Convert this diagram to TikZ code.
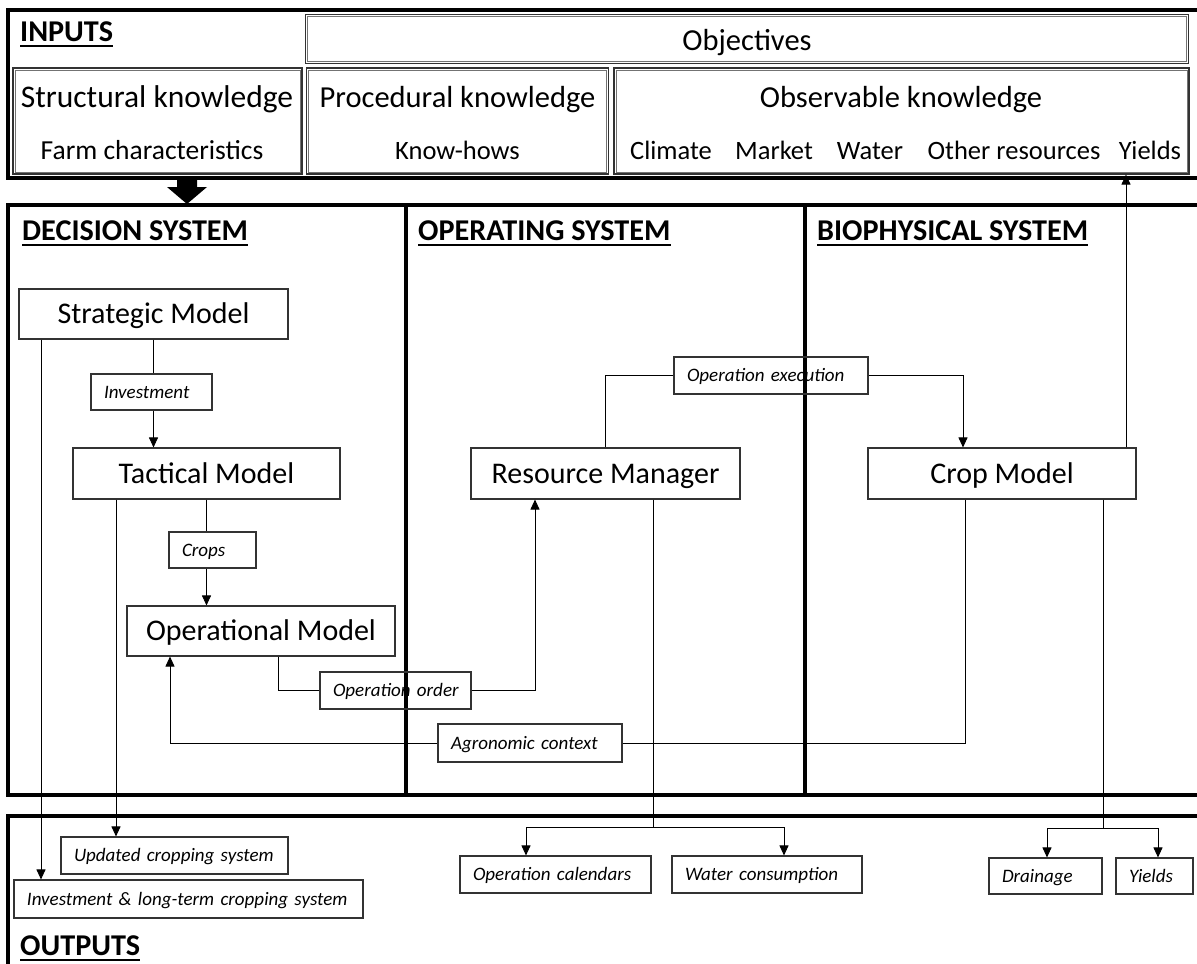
\documentclass[tikz,border=0pt]{standalone}
\usepackage{fontspec}
\setmainfont{Carlito}
\usetikzlibrary{arrows.meta,calc}
\begin{document}
\begin{tikzpicture}[x=1pt,y=-1pt,
 frame/.style={line width=3.2pt},
 ibox/.style={draw=black!80, line width=1.1pt, inner sep=0pt},
 iline/.style={draw=black!55, line width=0.9pt},
 mbox/.style={draw=black!80, line width=1.1pt, inner sep=0pt, text height=19.5pt, text depth=0pt, font=\fontsize{30}{36}\selectfont},
 lab/.style={draw=black!80, line width=1.1pt, inner xsep=13pt, inner ysep=0pt, text height=12pt, text depth=0pt, align=left, font=\fontsize{19}{22}\selectfont\itshape},
 conn/.style={line width=0.9pt},
 arr/.style={conn, -{Triangle[width=9pt,length=10pt]}},
 hdr/.style={font=\fontsize{30.2}{35}\selectfont\bfseries, inner sep=0pt, anchor=base west},
 big/.style={font=\fontsize{30.5}{36}\selectfont, inner sep=0pt, anchor=base},
 small/.style={font=\fontsize{26.5}{30}\selectfont, inner sep=0pt, anchor=base},
 ul/.style={line width=2.6pt}
]
\useasboundingbox (0,0) rectangle (1197,964);
\clip (0,0) rectangle (1197,964);

% frames
\draw[frame] (8,10) rectangle (1215,178);
\draw[frame] (8,205) rectangle (1215,795);
\draw[frame] (406,205) -- (406,795);
\draw[frame] (805,205) -- (805,795);
\draw[frame] (8,816) rectangle (1215,1000);
\fill (177,178) -- (197,178) -- (197,187) -- (207,187) -- (187,204) -- (167,187) -- (177,187) -- cycle;

% inputs
\node[hdr] (hin) at (20,41) {INPUTS};
\draw[ul] ([yshift=-5pt]hin.base west) -- ([yshift=-5pt]hin.base east);
\node[ibox, minimum width=883, minimum height=49] (obj) at (747,39) {};
\node[ibox, minimum width=289, minimum height=106] (sk) at (157.5,121) {};
\node[ibox, minimum width=302, minimum height=106] (pk) at (457.5,121) {};
\node[ibox, minimum width=575, minimum height=106] (ok) at (901.5,121) {};
\foreach \b in {obj,sk,pk,ok}{
  \draw[iline] ([shift={(2.6pt,-2.6pt)}]\b.north west) rectangle ([shift={(-2.6pt,2.6pt)}]\b.south east);
}
\node[big] (objt) at (747,50) {Objectives};
\node[big, font=\fontsize{31.5}{36}\selectfont] (skt) at (157,107) {Structural knowledge};
\node[small, font=\fontsize{27.5}{32}\selectfont] (skf) at (152,159) {Farm characteristics};
\node[big] (pkt) at (457.5,107) {Procedural knowledge};
\node[small] (pkk) at (457.5,159) {Know-hows};
\node[big] (okt) at (901,107) {Observable knowledge};
\node[small] (ok1) at (671,159) {Climate};
\node[small] (ok2) at (774,159) {Market};
\node[small] (ok3) at (870,159) {Water};
\node[small] (ok4) at (1014,159) {Other resources};
\node[small] (ok5) at (1150,159) {Yields};

% system headers
\node[hdr] (hdec) at (22,240) {DECISION SYSTEM};
\draw[ul] ([yshift=-5pt]hdec.base west) -- ([yshift=-5pt]hdec.base east);
\node[hdr] (hop) at (418,240) {OPERATING SYSTEM};
\draw[ul] ([yshift=-5pt]hop.base west) -- ([yshift=-5pt]hop.base east);
\node[hdr] (hbio) at (817,240) {BIOPHYSICAL SYSTEM};
\draw[ul] ([yshift=-5pt]hbio.base west) -- ([yshift=-5pt]hbio.base east);
\node[hdr] (hout) at (20,955) {OUTPUTS};
\draw[ul] ([yshift=-5pt]hout.base west) -- ([yshift=-5pt]hout.base east);

% models
\node[mbox, minimum width=269, minimum height=50] (sm) at (153.5,314) {Strategic Model};
\node[mbox, minimum width=267, minimum height=51] (tm) at (206.5,473.5) {Tactical Model};
\node[mbox, minimum width=268, minimum height=50] (om) at (261,631) {Operational Model};
\node[mbox, minimum width=269, minimum height=51] (rm) at (605.5,473.5) {Resource Manager};
\node[mbox, minimum width=268, minimum height=51] (cm) at (1002,473.5) {Crop Model};

% labels
\node[lab, text width=95, minimum height=36] (inv) at (151.5,392) {\mbox{Investment}};
\node[lab, text width=61, minimum height=36] (crp) at (212.5,550) {\mbox{Crops}};
\node[lab, text width=125, minimum height=37] (oor) at (395.5,690.5) {\mbox{Operation order}};
\node[lab, text width=158, minimum height=38] (agr) at (530,743) {\mbox{Agronomic context}};
\node[lab, text width=168, minimum height=37] (oex) at (771,375.5) {\mbox{Operation execution}};

% outputs
\node[lab, text width=201, minimum height=37] (upd) at (174.5,855.5) {\mbox{Updated cropping system}};
\node[lab, text width=323, minimum height=38] (ilt) at (188.5,899) {\mbox{Investment \& long-term cropping system}};
\node[lab, text width=165, minimum height=37] (cal) at (555.5,874.5) {\mbox{Operation calendars}};
\node[lab, text width=164, minimum height=37] (wat) at (767,874.5) {\mbox{Water consumption}};
\node[lab, text width=87, minimum height=36] (drn) at (1045.5,876) {\mbox{Drainage}};
\node[lab, text width=51, minimum height=36] (yld) at (1154.5,876) {\mbox{Yields}};

% connectors
\draw[conn] (sm.south) -- (sm.south |- inv.north);
\draw[arr] (inv.south -| sm.south) -- (tm.north -| sm.south);
\draw[conn] (tm.south) -- (tm.south |- crp.north);
\draw[arr] (crp.south -| tm.south) -- (om.north -| tm.south);
\draw[conn] ([xshift=17pt]om.south) |- (oor.west);
\draw[arr] (oor.east) -| ([xshift=-70.5pt]rm.south);
\draw[conn] (rm.north) |- (oex.west);
\draw[arr] (oex.east) -| ([xshift=-39pt]cm.north);
\draw[conn] ([xshift=-37pt]cm.south) |- (agr.east);
\draw[arr] (agr.west) -| ([xshift=-91pt]om.south);
\draw[arr] ([xshift=124pt]cm.north) -- ([xshift=124pt]cm.north |- ok.south);

\draw[arr] ([xshift=-112.5pt]sm.south) -- ([xshift=-112.5pt]sm.south |- ilt.north);
\draw[arr] ([xshift=-90.5pt]tm.south) -- ([xshift=-90.5pt]tm.south |- upd.north);

\coordinate (rs) at (653,827);
\draw[conn] ([xshift=47.5pt]rm.south) -- (rs);
\draw[arr] (rs) -| ([xshift=-29.5pt]cal.north);
\draw[arr] (rs) -| ([xshift=17pt]wat.north);

\coordinate (cs) at (1103,828);
\draw[conn] ([xshift=101pt]cm.south) -- (cs);
\draw[arr] (cs) -| ([xshift=1.5pt]drn.north);
\draw[arr] (cs) -| ([xshift=3.5pt]yld.north);
\end{tikzpicture}
\end{document}
